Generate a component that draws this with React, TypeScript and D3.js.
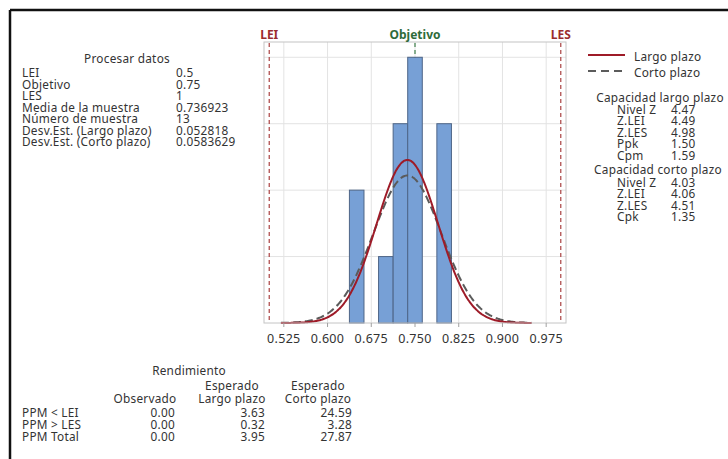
import React from 'react';
import * as d3 from 'd3';

// spec limits / process summary
const specLabels = ['LEI', 'Objetivo', 'LES'];
const specValues = [0.5, 0.75, 1.0];

const processLabels = ['LEI', 'Objetivo', 'LES', 'Media de la muestra', 'Número de muestra', 'Desv.Est. (Largo plazo)', 'Desv.Est. (Corto plazo)'];
const processValues = ['0.5', '0.75', '1', '0.736923', '13', '0.052818', '0.0583629'];

// histogram bins (centers) and counts
const binCenters = [0.65, 0.675, 0.7, 0.725, 0.75, 0.775, 0.8];
const binCounts = [2, 0, 1, 3, 4, 0, 3];
const binWidth = 0.025;

const xTicks = [0.525, 0.6, 0.675, 0.75, 0.825, 0.9, 0.975];
const yGrid = [1, 2, 3, 4];

const mean = 0.736923;
const sdLargo = 0.052818;
const sdCorto = 0.0583629;
const nSample = 13;

const largoLabels = ['Nivel Z', 'Z.LEI', 'Z.LES', 'Ppk', 'Cpm'];
const largoValues = ['4.47', '4.49', '4.98', '1.50', '1.59'];
const cortoLabels = ['Nivel Z', 'Z.LEI', 'Z.LES', 'Cpk'];
const cortoValues = ['4.03', '4.06', '4.51', '1.35'];

const ppmLabels = ['PPM < LEI', 'PPM > LES', 'PPM Total'];
const ppmObservado = ['0.00', '0.00', '0.00'];
const ppmLargo = ['3.63', '0.32', '3.95'];
const ppmCorto = ['24.59', '3.28', '27.87'];

const FONT = "'Noto Sans', sans-serif";
const TXT = '#333';
const FS = 11.8;

function T(props: { x: number; y: number; anchor?: string; children: React.ReactNode }) {
    return (
        <text x={props.x} y={props.y} textAnchor={props.anchor || 'start'} dominantBaseline="central"
            fontSize={FS} letterSpacing={0.25} fill={TXT}>{props.children}</text>
    );
}

function App() {
    const left = 264, right = 566, top = 42, bottom = 323;
    const x = d3.scaleLinear().domain([0.491, 1.009]).range([left, right]);
    const y = d3.scaleLinear().domain([0, 4.23]).range([bottom, top]);

    const pdf = (v: number, sd: number) => nSample * binWidth * Math.exp(-0.5 * ((v - mean) / sd) ** 2) / (sd * Math.sqrt(2 * Math.PI));
    const xs = d3.range(0.52, 0.9505, 0.002);
    const line = d3.line<number[]>().x(d => x(d[0])).y(d => y(d[1])).curve(d3.curveBasis);
    const largoPath = line(xs.map(v => [v, pdf(v, sdLargo)])) || '';
    const cortoPath = line(xs.map(v => [v, pdf(v, sdCorto)])) || '';

    const specColor = ['#9b2d2d', '#2e6b3a', '#9b2d2d'];
    const row = 11.5;

    return (
        <svg width={728} height={459} style={{ position: 'absolute', left: 0, top: 0, background: '#fff' }} fontFamily={FONT}>
            <rect x={0} y={0} width={728} height={459} fill="#fff" />
            {/* outer border (top + left) */}
            <line x1={10} x2={728} y1={10} y2={10} stroke="#111" strokeWidth={2.5} />
            <line x1={10} x2={10} y1={10} y2={459} stroke="#111" strokeWidth={2.5} />

            {/* gridlines */}
            {xTicks.map(t => (
                <line key={'gx' + t} x1={x(t)} x2={x(t)} y1={top} y2={bottom} stroke="#e3e3e3" strokeWidth={1} />
            ))}
            {yGrid.map(t => (
                <line key={'gy' + t} x1={left} x2={right} y1={y(t)} y2={y(t)} stroke="#e3e3e3" strokeWidth={1} />
            ))}

            {/* spec lines */}
            {specValues.map((v, i) => (
                <line key={'s' + i} x1={x(v)} x2={x(v)} y1={top + 1} y2={bottom}
                    stroke={i === 1 ? '#4f8a5a' : '#b05050'} strokeWidth={1.3} strokeDasharray="4,3" />
            ))}

            {/* histogram */}
            {binCenters.map((c, i) => binCounts[i] > 0 && (
                <rect key={'b' + i} x={x(c - binWidth / 2)} y={y(binCounts[i])}
                    width={x(c + binWidth / 2) - x(c - binWidth / 2)} height={y(0) - y(binCounts[i])}
                    fill="#77a0d6" stroke="#4e6587" strokeWidth={1} />
            ))}

            {/* curves */}
            <path d={cortoPath} fill="none" stroke="#5b5b5b" strokeWidth={2} strokeDasharray="8,4" />
            <path d={largoPath} fill="none" stroke="#9e1b28" strokeWidth={2} />

            {/* frame */}
            <rect x={left} y={top} width={right - left} height={bottom - top} fill="none" stroke="#c4c4c4" strokeWidth={1} />

            {/* x axis ticks */}
            {xTicks.map(t => (
                <g key={'t' + t}>
                    <line x1={x(t)} x2={x(t)} y1={bottom} y2={bottom + 4} stroke="#a0a0a0" />
                    <text x={x(t)} y={bottom + 15} textAnchor="middle" dominantBaseline="central" fontSize={12.5} letterSpacing={0.3} fill={TXT}>{t.toFixed(3)}</text>
                </g>
            ))}

            {/* spec labels */}
            {specLabels.map((s, i) => (
                <text key={'sl' + i} x={x(specValues[i])} y={34} textAnchor="middle" dominantBaseline="central"
                    fontSize={12} fontWeight="bold" fill={specColor[i]}>{s}</text>
            ))}

            {/* process data table */}
            <T x={127} y={58} anchor="middle">Procesar datos</T>
            {processLabels.map((l, i) => (
                <g key={'p' + i}>
                    <T x={22} y={72 + i * row}>{l}</T>
                    <T x={176} y={72 + i * row}>{processValues[i]}</T>
                </g>
            ))}

            {/* legend */}
            <line x1={588} x2={625} y1={55} y2={55} stroke="#9e1b28" strokeWidth={2} />
            <T x={634} y={56}>Largo plazo</T>
            <line x1={588} x2={625} y1={71} y2={71} stroke="#5b5b5b" strokeWidth={2} strokeDasharray="8,5" />
            <T x={634} y={72}>Corto plazo</T>

            {/* capability tables */}
            <T x={660} y={97} anchor="middle">Capacidad largo plazo</T>
            {largoLabels.map((l, i) => (
                <g key={'l' + i}>
                    <T x={617} y={108.5 + i * row}>{l}</T>
                    <T x={671} y={108.5 + i * row}>{largoValues[i]}</T>
                </g>
            ))}
            <T x={658} y={168.5} anchor="middle">Capacidad corto plazo</T>
            {cortoLabels.map((l, i) => (
                <g key={'c' + i}>
                    <T x={617} y={181.5 + i * row}>{l}</T>
                    <T x={671} y={181.5 + i * row}>{cortoValues[i]}</T>
                </g>
            ))}

            {/* performance table */}
            <T x={189} y={370} anchor="middle">Rendimiento</T>
            <T x={232} y={385} anchor="middle">Esperado</T>
            <T x={318} y={385} anchor="middle">Esperado</T>
            <T x={145} y={398} anchor="middle">Observado</T>
            <T x={232} y={398} anchor="middle">Largo plazo</T>
            <T x={318} y={398} anchor="middle">Corto plazo</T>
            {ppmLabels.map((l, i) => (
                <g key={'ppm' + i}>
                    <T x={22} y={412 + i * 12}>{l}</T>
                    <T x={175} y={412 + i * 12} anchor="end">{ppmObservado[i]}</T>
                    <T x={265} y={412 + i * 12} anchor="end">{ppmLargo[i]}</T>
                    <T x={352} y={412 + i * 12} anchor="end">{ppmCorto[i]}</T>
                </g>
            ))}
        </svg>
    );
}

export default App;
